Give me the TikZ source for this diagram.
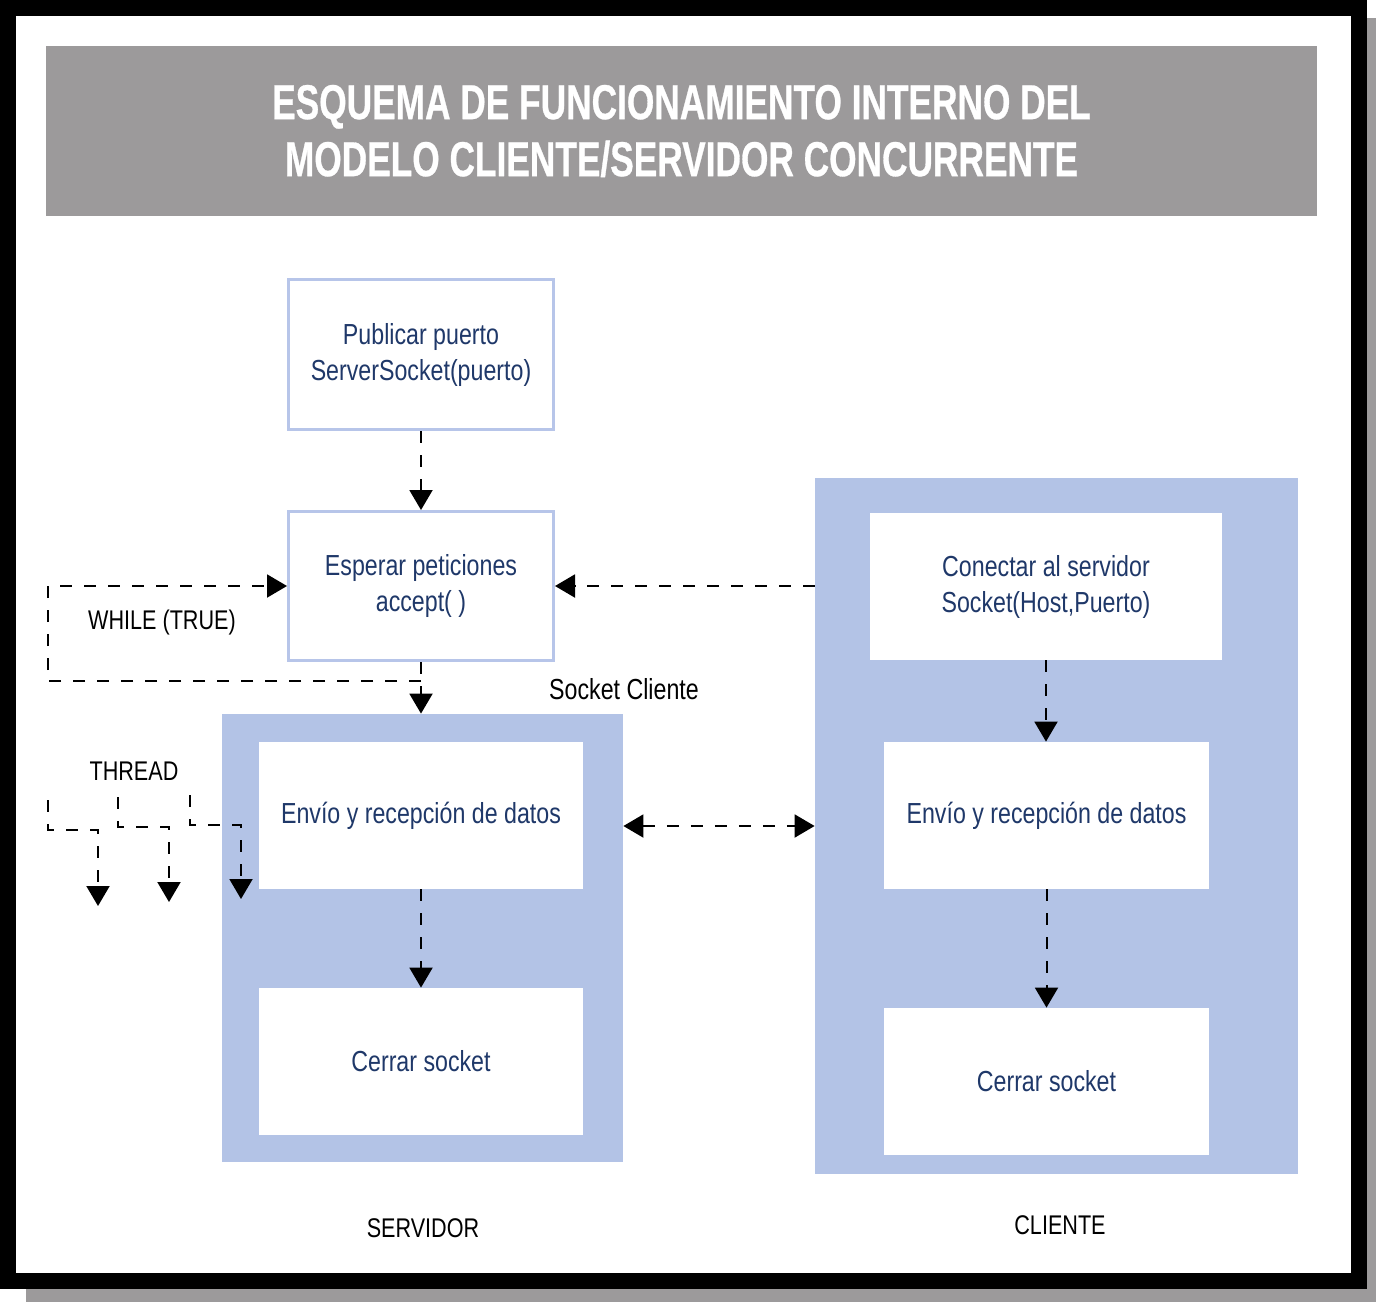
\documentclass[tikz,border=0pt]{standalone}
\usepackage{fontspec}
\setmainfont{Liberation Sans}[FakeStretch=0.8]
\newfontfamily\titlefont{Liberation Sans}[FakeStretch=0.72, FakeBold=0.6]
\usetikzlibrary{arrows.meta}
\definecolor{panelblue}{HTML}{B3C3E6}
\definecolor{boxborder}{HTML}{B7C5E9}
\definecolor{titlegray}{HTML}{9C9A9B}
\definecolor{navy}{HTML}{1F3869}
\tikzset{
  bodytext/.style={font=\fontsize{14.5}{18}\selectfont, align=center},
  outlinebox/.style={bodytext, draw=boxborder, line width=1.5pt, fill=white, text=navy, inner sep=0pt},
  whitebox/.style={bodytext, fill=white, text=navy, inner sep=0pt},
  panel/.style={fill=panelblue, inner sep=0pt},
  label/.style={font=\fontsize{13.5}{16}\selectfont, text=black, inner sep=0pt},
  dline/.style={line width=1pt, dash pattern=on 6pt off 6pt},
  arr/.style={dline, -{Triangle[length=10pt,width=11.5pt]}},
  biarr/.style={dline, {Triangle[length=10pt,width=11.5pt]}-{Triangle[length=10pt,width=11.5pt]}}
}
\begin{document}
\begin{tikzpicture}[x=0.5pt,y=-0.5pt]
\useasboundingbox (0,0) rectangle (1376,1302);
\fill[white] (0,0) rectangle (1376,1302);
% shadow
\fill[titlegray] (1367,18) rectangle (1376,1302);
\fill[titlegray] (26,1289) rectangle (1376,1302);
% frame
\fill[black] (0,0) rectangle (1367,1289);
\fill[white] (16,16) rectangle (1351,1273);
% title
\node[fill=titlegray, minimum width=635.5pt, minimum height=85pt, inner sep=0pt,
      text=white, align=center, font=\titlefont\bfseries\fontsize{24.5}{28.5}\selectfont]
  (title) at (681.5,131) {ESQUEMA DE FUNCIONAMIENTO INTERNO DEL\\MODELO CLIENTE/SERVIDOR CONCURRENTE};
% server side
\node[outlinebox, minimum width=132.5pt, minimum height=75pt] (pub) at (421,354.5)
  {Publicar puerto\\ServerSocket(puerto)};
\node[outlinebox, minimum width=132.5pt, minimum height=74.5pt] (esp) at (421,586)
  {Esperar peticiones\\accept( )};
\node[panel, minimum width=200.5pt, minimum height=224pt] (srvpanel) at (422.5,938) {};
\node[whitebox, minimum width=162pt, minimum height=73.5pt] (srvenv) at (421,815.5)
  {Envío y recepción de datos};
\node[whitebox, minimum width=162pt, minimum height=73.5pt] (srvcer) at (421,1061.5)
  {Cerrar socket};
% client side
\node[panel, minimum width=241.5pt, minimum height=348pt] (clipanel) at (1056.5,826) {};
\node[whitebox, minimum width=176pt, minimum height=73.5pt] (con) at (1046,586.5)
  {Conectar al servidor\\Socket(Host,Puerto)};
\node[whitebox, minimum width=162.5pt, minimum height=73.5pt] (clienv) at (1046.5,815.5)
  {Envío y recepción de datos};
\node[whitebox, minimum width=162.5pt, minimum height=73.5pt] (clicer) at (1046.5,1081.5)
  {Cerrar socket};
% labels
\node[label] (while) at (162,623) {WHILE (TRUE)};
\node[label, font=\fontsize{14.5}{18}\selectfont] (sockcli) at (624,689) {Socket Cliente};
\node[label] (thread) at (134,771) {THREAD};
\node[label] (servidor) at (423,1228) {SERVIDOR};
\node[label] (cliente) at (1060,1225) {CLIENTE};
% connectors
\draw[arr] (pub.south) -- (esp.north);
\draw[arr] (esp.south) -- (esp.south |- srvpanel.north);
\coordinate (w1) at (48,681);
\draw[arr] (esp.south |- w1) -- (w1) -- (w1 |- esp.west) -- (esp.west);
\draw[arr] (clipanel.west |- esp.east) -- (esp.east);
\draw[biarr] (srvpanel.east |- clipanel.west) -- (clipanel.west);
\draw[arr] (srvenv.south) -- (srvcer.north);
\draw[arr] (con.south) -- (con.south |- clienv.north);
\draw[arr] (clienv.south) -- (clicer.north);
% thread arrows
\coordinate (ta) at (48,800);
\coordinate (tb) at (118,797);
\coordinate (tc) at (190,795);
\coordinate (tat) at (98,906);
\coordinate (tbt) at (169,902);
\coordinate (tct) at (241,899);
\draw[arr] (ta) -- (48,830) -- (98,830) -- (tat);
\draw[arr] (tb) -- (118,827) -- (169,827) -- (tbt);
\draw[arr] (tc) -- (190,825) -- (241,825) -- (tct);
\end{tikzpicture}
\end{document}
